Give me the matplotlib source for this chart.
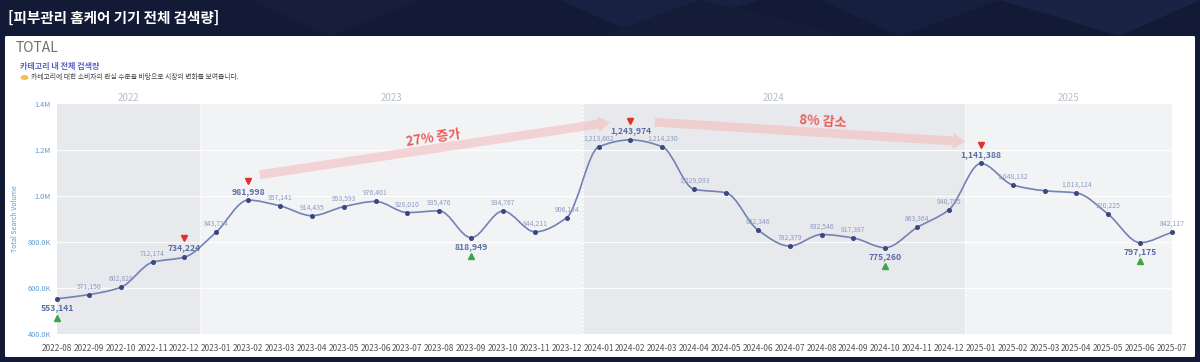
import matplotlib
matplotlib.use("Agg")
import matplotlib.pyplot as plt
import numpy as np
from matplotlib.path import Path
from matplotlib.patches import PathPatch, FancyBboxPatch, Polygon, Ellipse, FancyArrowPatch
import matplotlib.transforms as mtransforms

plt.rcParams['font.family'] = ['Noto Sans CJK KR', 'DejaVu Sans']

# ---------------- data ----------------
months = ["2022-08", "2022-09", "2022-10", "2022-11", "2022-12",
          "2023-01", "2023-02", "2023-03", "2023-04", "2023-05", "2023-06",
          "2023-07", "2023-08", "2023-09", "2023-10", "2023-11", "2023-12",
          "2024-01", "2024-02", "2024-03", "2024-04", "2024-05", "2024-06",
          "2024-07", "2024-08", "2024-09", "2024-10", "2024-11", "2024-12",
          "2025-01", "2025-02", "2025-03", "2025-04", "2025-05", "2025-06",
          "2025-07"]
values = [553141, 571150, 602828, 712174, 734224,
          843714, 981998, 957141, 914435, 953593, 976401,
          928010, 935476, 818949, 934767, 844211, 906184,
          1213602, 1243974, 1214230, 1029093, 1014000, 852346,
          782379, 832546, 817387, 775260, 863364, 940795,
          1141388, 1048132, 1023000, 1013124, 920225, 797175,
          842117]
# months whose value label is hidden in the reference
unlabeled = ["2024-05", "2025-03"]
years = ["2022", "2023", "2024", "2025"]
year_max = ["2022-12", "2023-02", "2024-02", "2025-01"]
year_min = ["2022-08", "2023-09", "2024-10", "2025-06"]
y_ticks = [400000, 600000, 800000, 1000000, 1200000, 1400000]
y_ticklabels = ["400.0K", "600.0K", "800.0K", "1.0M", "1.2M", "1.4M"]
title = "[피부관리 홈케어 기기 전체 검색량]"
card_title = "TOTAL"
sub_title = "카테고리 내 전체 검색량"
sub_desc = "카테고리에 대한 소비자의 관심 수준을 바탕으로 시장의 변화를 보여줍니다."
y_label = "Total Search Volume"
trend_up = "27% 증가"
trend_down = "8% 감소"

# ---------------- figure ----------------
W, H = 1200, 362
fig = plt.figure(figsize=(W / 100, H / 100), dpi=100)
fig.patch.set_facecolor("#121a35")

def fx(px):
    return px / W

def fy(py):
    return 1 - py / H

# subtle faceted background
facets = [
    ([(250, 0), (420, 0), (330, 36)], "#161e3b"),
    ([(560, 0), (760, 0), (640, 36)], "#182141"),
    ([(820, 0), (1000, 0), (900, 36)], "#161f3d"),
    ([(1000, 0), (1200, 0), (1120, 36)], "#1a2344"),
    ([(700, 0), (850, 36), (600, 36)], "#141c38"),
]
for pts, c in facets:
    fig.patches.append(Polygon([(fx(a), fy(b)) for a, b in pts], closed=True,
                               transform=fig.transFigure, facecolor=c,
                               edgecolor="none", zorder=0))

# white card
card = FancyBboxPatch((fx(5), fy(357)), fx(1190), (357 - 36) / H,
                      boxstyle="round,pad=0,rounding_size=0.002",
                      transform=fig.transFigure, facecolor="white",
                      edgecolor="none", zorder=1)
fig.patches.append(card)

fig.text(fx(8), fy(18), title, color="white", fontsize=10.5,
         fontweight="bold", va="center", ha="left")
fig.text(fx(16), fy(48), card_title, color="#707070", fontsize=10,
         va="center", ha="left", zorder=3)
fig.text(fx(20), fy(66), sub_title, color="#5a5fc8", fontsize=5.8,
         fontweight="bold", va="center", ha="left", zorder=3)
fig.patches.append(Ellipse((fx(24.5), fy(77.5)), fx(8), 5 / H,
                           transform=fig.transFigure, facecolor="#f2c14e",
                           edgecolor="none", zorder=3))
fig.text(fx(31), fy(77.5), sub_desc, color="#444444", fontsize=4.9,
         va="center", ha="left", zorder=3)

# ---------------- axes ----------------
ax_left, ax_right, ax_top, ax_bottom = 57, 1172, 104, 334
ax = fig.add_axes([fx(ax_left), fy(ax_bottom), fx(ax_right - ax_left),
                   (ax_bottom - ax_top) / H], zorder=2)
ax.set_facecolor("none")
x = np.arange(len(months))
ax.set_xlim(0, len(months) - 1)
ax.set_ylim(y_ticks[0], y_ticks[-1])

# year bands
year_of = np.array([m[:4] for m in months])
band_colors = ["#e8e9ec", "#f2f3f5"]
for i, yr in enumerate(years):
    idx = np.where(year_of == yr)[0]
    left = max(idx[0] - 0.5, 0)
    right = min(idx[-1] + 0.5, len(months) - 1)
    ax.axvspan(left, right, color=band_colors[i % 2], zorder=0, lw=0)
    ax.text((left + right) / 2, 1.026, yr, transform=ax.get_xaxis_transform(),
            ha="center", va="center", color="#b9bdc7", fontsize=7)
    if i > 0:
        ax.axvline(left, color="#ffffff", ls=(0, (1.5, 2)), lw=0.8, zorder=1)

for t in y_ticks[1:-1]:
    ax.axhline(t, color="white", lw=0.9, alpha=0.9, zorder=1)
ax.axhline(y_ticks[0], color="#dcdde2", lw=0.8, zorder=1)

for s in ax.spines.values():
    s.set_visible(False)
ax.set_yticks(y_ticks)
ax.set_yticklabels(y_ticklabels)
ax.tick_params(axis="y", length=0, pad=4.5, labelsize=5.3, labelcolor="#5b9bd5")
ax.set_xticks(x)
ax.set_xticklabels(months)
ax.tick_params(axis="x", length=0, pad=7, labelsize=6, labelcolor="#555555")
ax.set_ylabel(y_label, fontsize=5, color="#5b9bd5")
ax.yaxis.set_label_coords(-(ax_left - 19) / (ax_right - ax_left), 0.5)

# ---------------- smooth line (monotone cubic through the data) ----------------
xv = x.astype(float)
yv = np.array(values, dtype=float)
d = np.diff(yv) / np.diff(xv)
m = np.zeros_like(yv)
m[0], m[-1] = d[0], d[-1]
for i in range(1, len(yv) - 1):
    if d[i - 1] * d[i] <= 0:
        m[i] = 0.0
    else:
        m[i] = 2.0 / (1.0 / d[i - 1] + 1.0 / d[i])
verts = [(xv[0], yv[0])]
codes = [Path.MOVETO]
for i in range(len(yv) - 1):
    h = xv[i + 1] - xv[i]
    verts += [(xv[i] + h / 3, yv[i] + m[i] * h / 3),
              (xv[i + 1] - h / 3, yv[i + 1] - m[i + 1] * h / 3),
              (xv[i + 1], yv[i + 1])]
    codes += [Path.CURVE4] * 3
ax.add_patch(PathPatch(Path(verts, codes), facecolor="none",
                       edgecolor="#7282b4", lw=1.2, zorder=3, clip_on=False))
ax.plot(x, values, ls="none", marker="o", ms=2.6, color="#3b4880", zorder=4,
        clip_on=False)

# ---------------- labels ----------------
def shifted(dy_pt):
    return ax.transData + mtransforms.ScaledTranslation(0, dy_pt / 72, fig.dpi_scale_trans)

for i, (mo, v) in enumerate(zip(months, values)):
    txt = f"{v:,}"
    if mo in year_max:
        ax.annotate(txt, (i, v), xytext=(0, 6.5), textcoords="offset points",
                    ha="center", va="center", fontsize=6.2, fontweight="bold",
                    color="#5a6ea8", zorder=5, annotation_clip=False)
        ax.plot([i], [v], ls="none", marker="v", ms=4.5, color="#e0312b",
                zorder=5, transform=shifted(13.5), clip_on=False)
    elif mo in year_min:
        ax.annotate(txt, (i, v), xytext=(0, -6.5), textcoords="offset points",
                    ha="center", va="center", fontsize=6.2, fontweight="bold",
                    color="#5a6ea8", zorder=5, annotation_clip=False)
        ax.plot([i], [v], ls="none", marker="^", ms=4.5, color="#3aa846",
                zorder=5, transform=shifted(-13.5), clip_on=False)
    elif mo not in unlabeled:
        ax.annotate(txt, (i, v), xytext=(0, 6), textcoords="offset points",
                    ha="center", va="center", fontsize=4.9,
                    color="#8c9bc6", zorder=5, annotation_clip=False)

# ---------------- trend arrows ----------------
arrow_kw = dict(arrowstyle="simple,head_width=1.4,head_length=1.1,tail_width=0.8",
                mutation_scale=8, color="#f3bdbb", alpha=0.6, lw=0, zorder=2)
ax.add_patch(FancyArrowPatch((6.28, 1091000), (17.45, 1322000), **arrow_kw))
ax.add_patch(FancyArrowPatch((18.68, 1322000), (28.6, 1235000), **arrow_kw))
ax.text(11.8, 1252000, trend_up, rotation=8.5, ha="center", va="center",
        fontsize=9.4, fontweight="bold", color="#e85d5a", zorder=5)
ax.text(24.05, 1322000, trend_down, rotation=-3.5, ha="center", va="center",
        fontsize=9.4, fontweight="bold", color="#e85d5a", zorder=5)

fig.savefig("out.png", dpi=100, facecolor=fig.get_facecolor())
